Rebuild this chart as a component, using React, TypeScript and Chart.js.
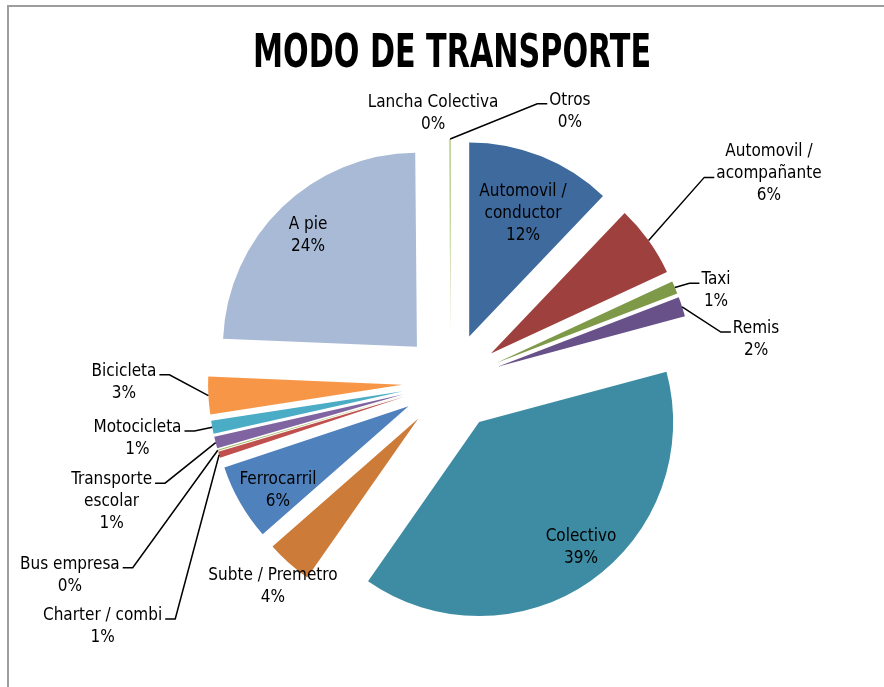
import { useEffect, useRef } from "react";
import { Chart, registerables } from "chart.js";

Chart.register(...registerables);

const TITLE = "MODO DE TRANSPORTE";

const CATEGORIES = [
  "Automovil /\nconductor",
  "Automovil /\nacompañante",
  "Taxi",
  "Remis",
  "Colectivo",
  "Subte / Premetro",
  "Ferrocarril",
  "Charter / combi",
  "Bus empresa",
  "Transporte\nescolar",
  "Motocicleta",
  "Bicicleta",
  "A pie",
  "Lancha Colectiva",
  "Otros",
];

// share of trips (%)
const VALUES = [12.11, 6.0, 1.06, 1.64, 38.89, 3.83, 6.36, 0.53, 0.08, 0.97, 1.08, 3.11, 24.19, 0.03, 0.11];

const COLORS = [
  "#3E6A9D",
  "#9E413E",
  "#7E9A48",
  "#685188",
  "#3D8CA3",
  "#CD7B38",
  "#4F81BD",
  "#C0504D",
  "#9BBB59",
  "#8064A2",
  "#4BACC6",
  "#F79646",
  "#A9BAD6",
  "#D99795",
  "#B5CF85",
];

// label placement: [angle (deg, clockwise from top), distance / radius, leader side (0 none, -1 label at left, 1 label at right)]
const LABEL_LAYOUT: [number, number, number][] = [
  [22.95, 0.9515, 0],
  [56.6, 1.9629, 1],
  [70.7, 1.4474, 1],
  [81.8, 1.5887, 1],
  [141.6, 1.0789, 0],
  [221.25, 1.3918, 0],
  [238.3, 1.0485, 0],
  [235.1, 2.1897, -1],
  [243.3, 2.199, -1],
  [250.8, 1.8526, -1],
  [260.05, 1.6407, -1],
  [270.2, 1.6856, -1],
  [315.9, 1.0588, 0],
  [356.2, 1.3964, 0],
  [23.6, 1.5309, 1],
];

const EXPLODE = 0.2526;
const RADIUS = 194;
const LABEL_FONT = '17px "DejaVu Sans Condensed", "DejaVu Sans", sans-serif';
const LINE_H = 22;

const explodePlugin = {
  id: "explode",
  afterDatasetUpdate(chart: any, args: any) {
    const meta = chart.getDatasetMeta(args.index);
    meta.data.forEach((arc: any) => {
      const mid = (arc.startAngle + arc.endAngle) / 2;
      const d = arc.outerRadius * EXPLODE;
      arc._cx = arc.x;
      arc._cy = arc.y;
      arc.x = arc._cx + Math.cos(mid) * d;
      arc.y = arc._cy + Math.sin(mid) * d;
    });
  },
};

const decorPlugin = {
  id: "decor",
  beforeDraw(chart: any) {
    const ctx = chart.ctx;
    ctx.save();
    ctx.strokeStyle = "#9d9d9d";
    ctx.lineWidth = 2;
    ctx.strokeRect(8, 6, 1200, 1200);
    ctx.restore();
  },
  afterDraw(chart: any) {
    const ctx = chart.ctx;
    const meta = chart.getDatasetMeta(0);
    const total = VALUES.reduce((a, b) => a + b, 0);
    // title
    ctx.save();
    ctx.fillStyle = "#000";
    ctx.font = 'bold 46px "Liberation Sans Narrow", "DejaVu Sans Condensed", sans-serif';
    const tw = ctx.measureText(TITLE).width;
    const target = 398;
    ctx.translate(452, 67);
    ctx.scale(target / tw, 1);
    ctx.textAlign = "center";
    ctx.textBaseline = "alphabetic";
    ctx.fillText(TITLE, 0, 0);
    ctx.restore();

    ctx.save();
    ctx.font = LABEL_FONT;
    ctx.fillStyle = "#000";
    ctx.strokeStyle = "#000";
    ctx.lineWidth = 1.5;
    ctx.textAlign = "center";
    ctx.textBaseline = "alphabetic";
    meta.data.forEach((arc: any, i: number) => {
      const R = arc.outerRadius;
      const cx = arc._cx;
      const cy = arc._cy;
      const [ang, dist, side] = LABEL_LAYOUT[i];
      const th = ((ang - 90) * Math.PI) / 180;
      const x = cx + Math.cos(th) * dist * R;
      const y = cy + Math.sin(th) * dist * R;
      const pct = Math.round((VALUES[i] / total) * 100) + "%";
      const lines = [...CATEGORIES[i].split("\n"), pct];
      const n = lines.length;
      let wIdx = 0;
      let wMax = 0;
      lines.forEach((ln, j) => {
        const w = ctx.measureText(ln).width;
        if (w > wMax) {
          wMax = w;
          wIdx = j;
        }
        const ly = y + (j - (n - 1) / 2) * LINE_H;
        ctx.fillText(ln, x, ly + 6);
      });
      if (side !== 0) {
        const mid = (arc.startAngle + arc.endAngle) / 2;
        const px = arc.x + Math.cos(mid) * R;
        const py = arc.y + Math.sin(mid) * R;
        const sy = y + (wIdx - (n - 1) / 2) * LINE_H + 5;
        let x0, x1;
        if (side < 0) {
          x0 = x + wMax / 2 + 3;
          x1 = x0 + 10;
        } else {
          x0 = x - wMax / 2 - 2;
          x1 = x0 - 10;
        }
        ctx.beginPath();
        ctx.moveTo(x0, sy);
        ctx.lineTo(x1, sy);
        ctx.lineTo(px, py);
        ctx.stroke();
      }
    });
    ctx.restore();
  },
};

export default function App() {
  const ref = useRef<HTMLCanvasElement | null>(null);
  useEffect(() => {
    if (!ref.current) return;
    const chart = new Chart(ref.current, {
      type: "pie",
      data: {
        labels: CATEGORIES,
        datasets: [
          {
            data: VALUES,
            backgroundColor: COLORS,
            borderWidth: 0,
            clip: false as any,
          },
        ],
      },
      options: {
        responsive: false,
        devicePixelRatio: 1,
        animation: false,
        events: [],
        radius: RADIUS,
        layout: { padding: { left: 18, right: 0, top: 77, bottom: 0 } },
        plugins: {
          legend: { display: false },
          title: { display: false },
          tooltip: { enabled: false },
        },
      } as any,
      plugins: [explodePlugin, decorPlugin],
    });
    return () => chart.destroy();
  }, []);
  return (
    <div style={{ position: "fixed", left: 0, top: 0, width: 884, height: 687, background: "#fff" }}>
      <canvas ref={ref} width={884} height={687} style={{ display: "block" }} />
    </div>
  );
}
